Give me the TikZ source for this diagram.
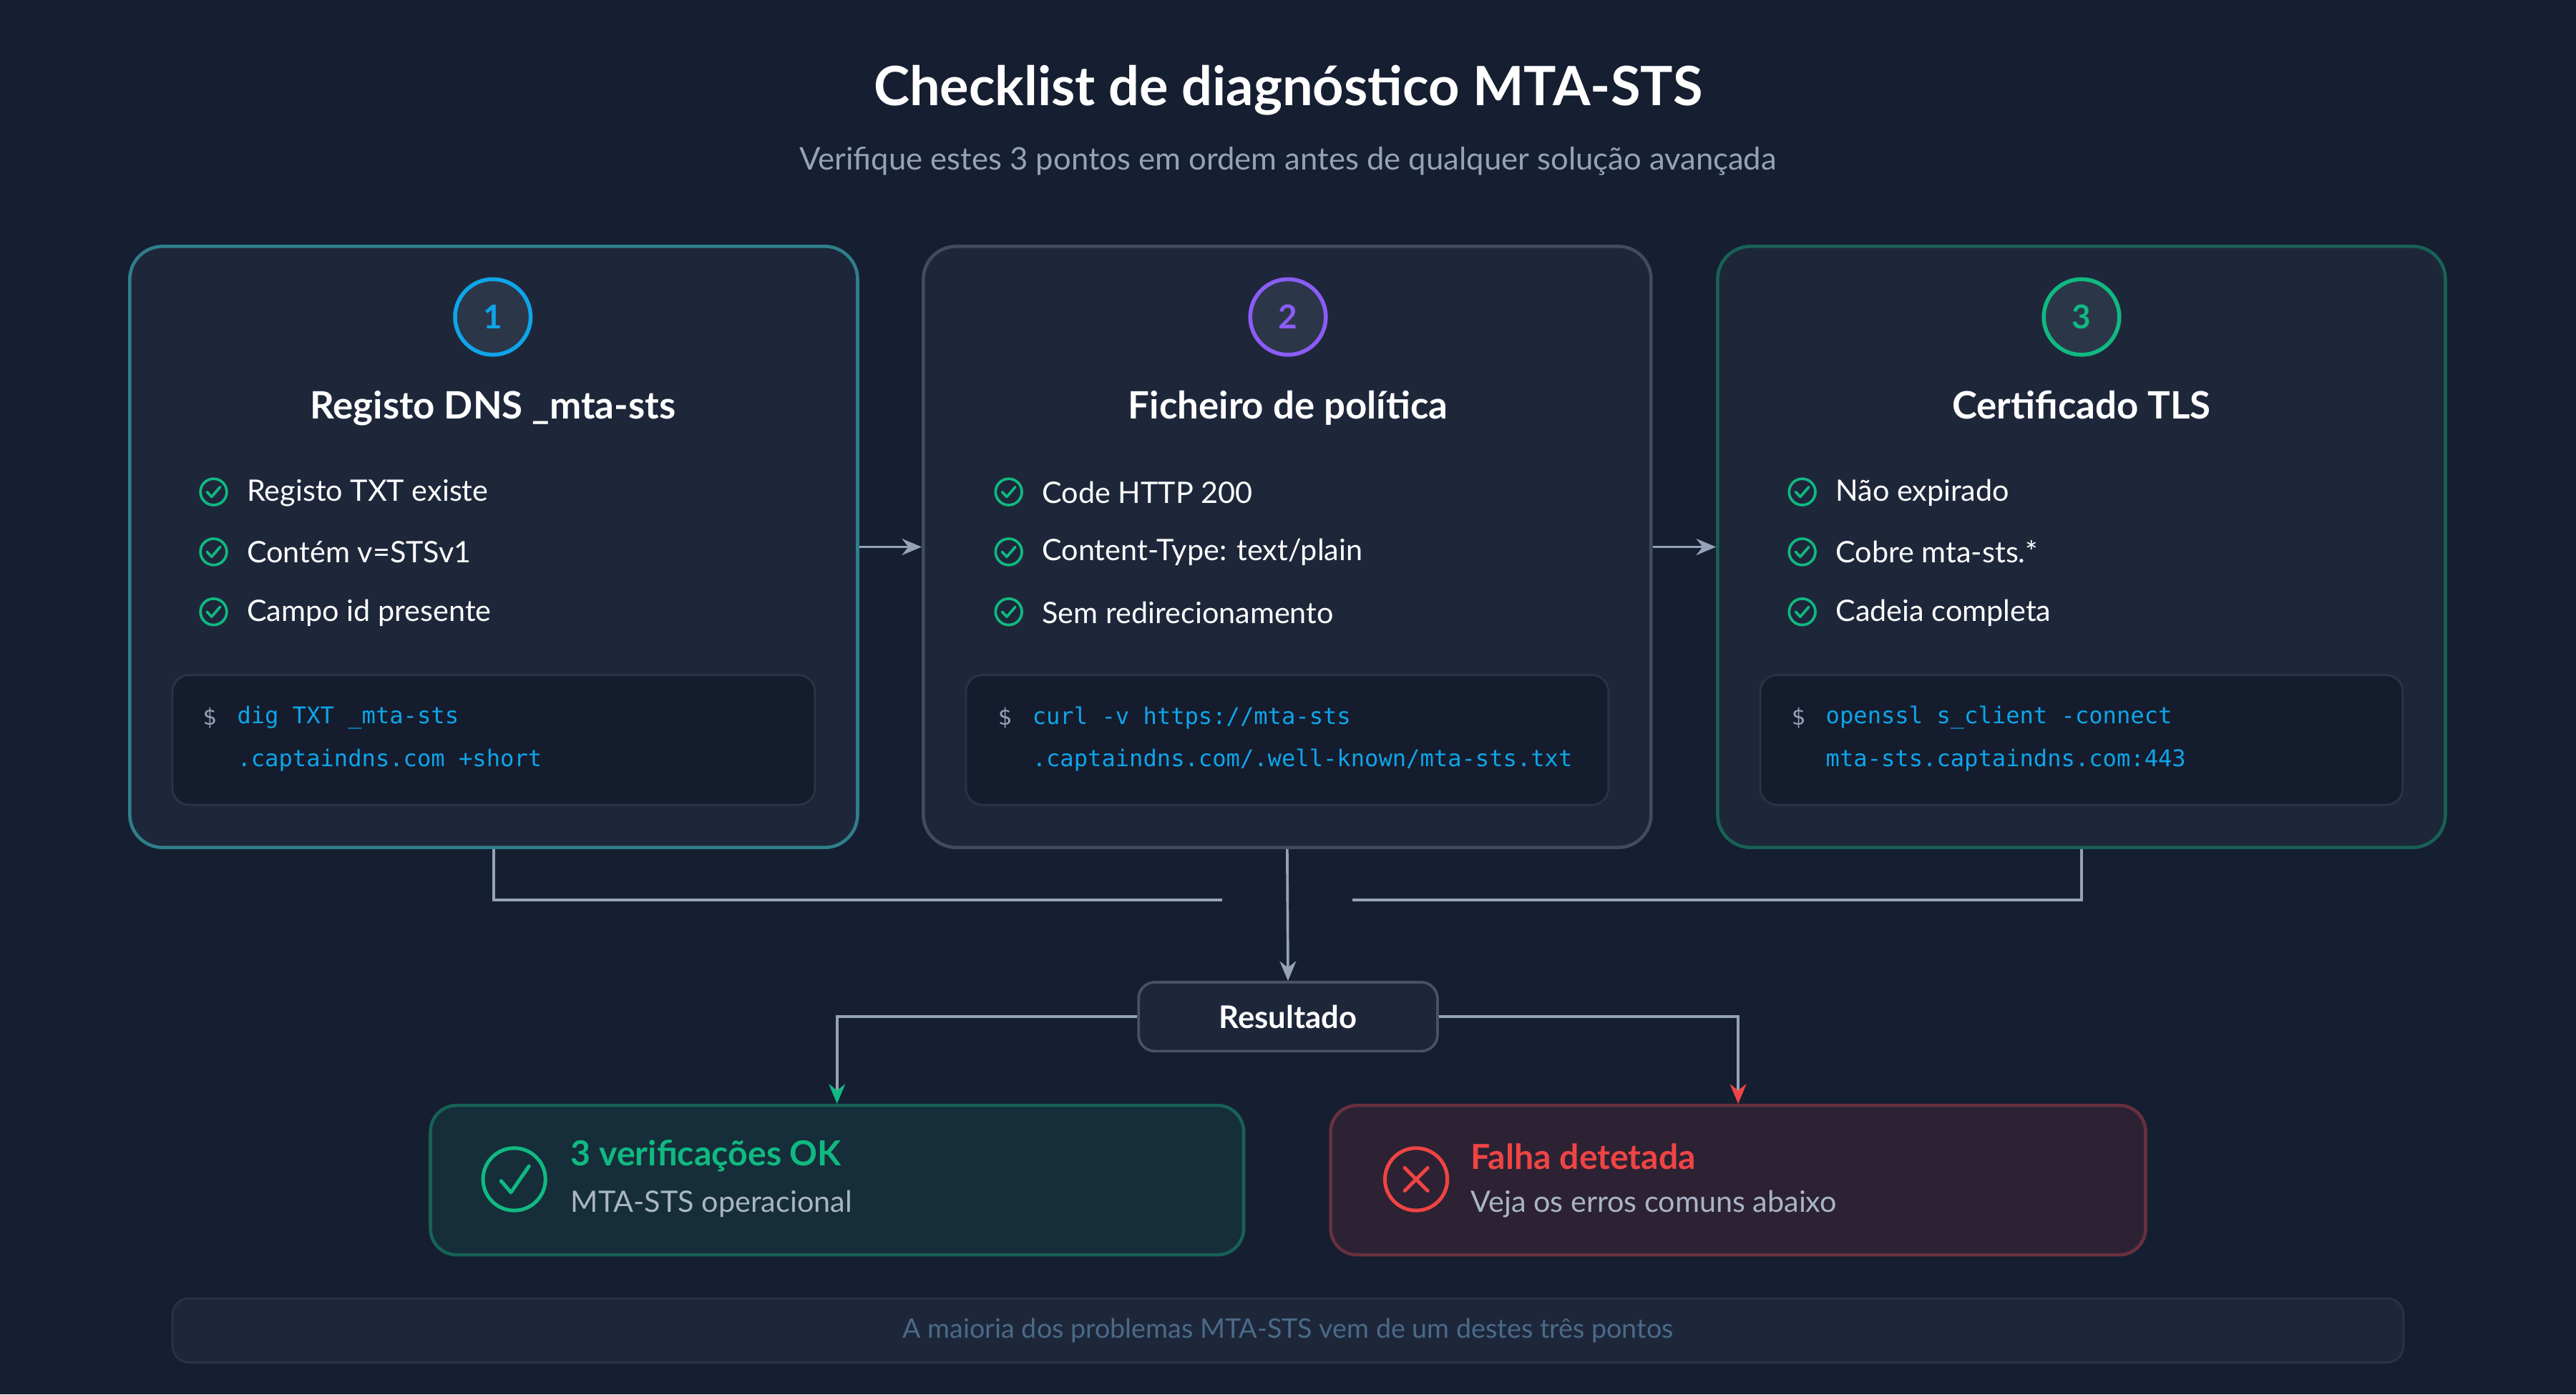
\documentclass[tikz,border=0pt]{standalone}
\usepackage{fontspec}
\setmainfont{Lato}
\setmonofont{DejaVu Sans Mono}
\usetikzlibrary{positioning, arrows.meta}

\definecolor{bgdark}{HTML}{161E31}
\definecolor{cardfill}{HTML}{1E273A}
\definecolor{codefill}{HTML}{151C2D}
\definecolor{codeline}{HTML}{2A3447}
\definecolor{slate}{HTML}{94A3B8}
\definecolor{cyanc}{HTML}{0EA5E9}
\definecolor{tealc}{HTML}{2F7F8A}
\definecolor{violetc}{HTML}{8B5CF6}
\definecolor{greenc}{HTML}{10B981}
\definecolor{redc}{HTML}{EF4444}
\definecolor{foot}{HTML}{4A6A88}

\tikzset{
    card/.style={draw, line width=1pt, rounded corners=10pt, fill=cardfill,
        minimum width=221.5pt, minimum height=183pt},
    badge/.style={circle, draw, line width=1.2pt, fill=cardfill!70!slate!40!cardfill,
        minimum size=23pt, inner sep=0pt, font=\bfseries\fontsize{10}{12}\selectfont},
    heading/.style={text=white, anchor=base, font=\fontsize{11.5}{13}\selectfont\bfseries},
    item/.style={anchor=west, text=white, inner sep=0pt, font=\fontsize{9}{10}\selectfont},
    codebox/.style={draw=codeline, line width=0.6pt, fill=codefill, rounded corners=5pt,
        minimum width=195.5pt, minimum height=39.5pt},
    code/.style={anchor=west, text=cyanc, inner sep=0pt, font=\ttfamily\fontsize{7}{8}\selectfont},
    prompt/.style={anchor=west, text=slate, inner sep=0pt, font=\ttfamily\fontsize{7}{8}\selectfont},
    link/.style={draw=slate, line width=0.8pt},
    chk/.pic={
        \draw[greenc, line width=0.8pt] (0,0) circle (4pt);
        \draw[greenc, line width=0.8pt, line cap=round, line join=round]
            (-2pt,0pt) -- (-0.6pt,-1.5pt) -- (2pt,1.5pt);
    }
}

\begin{document}
\begin{tikzpicture}[x=0.5pt, y=-0.5pt, >={Stealth[length=6pt, width=5pt]}]

    % Background
    \fill[bgdark] (0,0) rectangle (1568,849);
    \useasboundingbox (0,0) rectangle (1568,849);

    % Title
    \node[text=white, font=\fontsize{16.5}{18}\selectfont\bfseries] (title) at (784,55)
        {Checklist de diagnóstico MTA-STS};
    \node[text=slate, font=\fontsize{9.5}{11}\selectfont] (subtitle) at (784,98)
        {Verifique estes 3 pontos em ordem antes de qualquer solução avançada};

    % Cards
    \node[card, draw=tealc] (dns) at (300.5,333) {};
    \node[card, draw=slate!30!cardfill] (pol) at (783.5,333) {};
    \node[card, draw=greenc!40!cardfill] (tls) at (1267,333) {};

    % Card 1
    \node[badge, draw=cyanc, text=cyanc] (b1) at (300,193) {1};
    \node[heading] (h1) at (300,255) {Registo DNS \_mta-sts};
    \foreach \i in {1,2,3}
        \pic at (130,{263+36.5*\i}) {chk};
    \node[item] (i11) at (150,300) {Registo TXT existe};
    \node[item] (i12) at (150,336) {Contém v=STSv1};
    \node[item] (i13) at (150,373) {Campo id presente};
    \node[codebox] (c1) at (300.5,450.5) {};
    \node[prompt] at (123,437) {\$};
    \node[code] at (144,437) {dig TXT \_mta-sts};
    \node[code] at (144,463) {.captaindns.com +short};

    % Card 2
    \node[badge, draw=violetc, text=violetc] (b2) at (784,193) {2};
    \node[heading] (h2) at (784,255) {Ficheiro de política};
    \foreach \i in {1,2,3}
        \pic at (614,{263+36.5*\i}) {chk};
    \node[item] (i21) at (634,300) {Code HTTP 200};
    \node[item] (i22) at (634,336) {Content-Type: text/plain};
    \node[item] (i23) at (634,373) {Sem redirecionamento};
    \node[codebox] (c2) at (783.5,450.5) {};
    \node[prompt] at (607,437) {\$};
    \node[code] at (628,437) {curl -v https://mta-sts};
    \node[code] at (628,463) {.captaindns.com/.well-known/mta-sts.txt};

    % Card 3
    \node[badge, draw=greenc, text=greenc] (b3) at (1267,193) {3};
    \node[heading] (h3) at (1267,255) {Certificado TLS};
    \foreach \i in {1,2,3}
        \pic at (1097,{263+36.5*\i}) {chk};
    \node[item] (i31) at (1117,300) {Não expirado};
    \node[item] (i32) at (1117,336) {Cobre mta-sts.*};
    \node[item] (i33) at (1117,373) {Cadeia completa};
    \node[codebox] (c3) at (1267,450.5) {};
    \node[prompt] at (1090,437) {\$};
    \node[code] at (1111,437) {openssl s\_client -connect};
    \node[code] at (1111,463) {mta-sts.captaindns.com:443};

    % Card to card
    \draw[link, ->] (dns.east) -- (pol.west);
    \draw[link, ->] (pol.east) -- (tls.west);

    % Result
    \node[draw=slate!35!cardfill, line width=0.8pt, fill=cardfill, rounded corners=5pt,
        minimum width=91pt, minimum height=21pt, text=white,
        font=\fontsize{9.5}{11}\selectfont\bfseries] (res) at (784,619) {Resultado};

    \coordinate (gl) at (744,548);
    \coordinate (gr) at (823,548);
    \draw[link] (dns.south) |- (gl);
    \draw[link] (tls.south) |- (gr);
    \draw[link, ->] (pol.south) -- (res.north);

    % Outcomes
    \node[draw=greenc!40!cardfill, line width=1pt, fill=greenc!10!bgdark, rounded corners=8pt,
        minimum width=247.5pt, minimum height=45.5pt] (ok) at (509.5,718.5) {};
    \node[draw=redc!35!cardfill, line width=1pt, fill=redc!10!bgdark, rounded corners=8pt,
        minimum width=248pt, minimum height=45.5pt] (fail) at (1058,718.5) {};

    \draw[link, -{Stealth[length=6pt, width=5pt, color=greenc]}] (res.west) -| (ok.north);
    \draw[link, -{Stealth[length=6pt, width=5pt, color=redc]}] (res.east) -| (fail.north);

    \draw[greenc, line width=1.1pt] (313,718) circle (9.5pt);
    \draw[greenc, line width=1.1pt, line cap=round, line join=round]
        (305,719) -- (311,726) -- (322,710);
    \node[anchor=west, inner sep=0pt, text=greenc, font=\fontsize{10.5}{12}\selectfont\bfseries]
        (okt) at (347,704) {3 verificações OK};
    \node[anchor=west, inner sep=0pt, text=slate!80!white, font=\fontsize{9}{10}\selectfont]
        (oks) at (347,733) {MTA-STS operacional};

    \draw[redc, line width=1.1pt] (862,718) circle (9.5pt);
    \draw[redc, line width=1.1pt, line cap=round] (855,711) -- (869,725) (869,711) -- (855,725);
    \node[anchor=west, inner sep=0pt, text=redc, font=\fontsize{10.5}{12}\selectfont\bfseries]
        (ft) at (895,704) {Falha detetada};
    \node[anchor=west, inner sep=0pt, text=slate!80!white, font=\fontsize{9}{10}\selectfont]
        (fs) at (895,733) {Veja os erros comuns abaixo};

    % Footer
    \node[draw=codeline, line width=0.6pt, fill=cardfill, rounded corners=5pt,
        minimum width=679pt, minimum height=19.5pt, text=foot,
        font=\fontsize{8.2}{9}\selectfont] (note) at (784,810)
        {A maioria dos problemas MTA-STS vem de um destes três pontos};

\end{tikzpicture}
\end{document}
